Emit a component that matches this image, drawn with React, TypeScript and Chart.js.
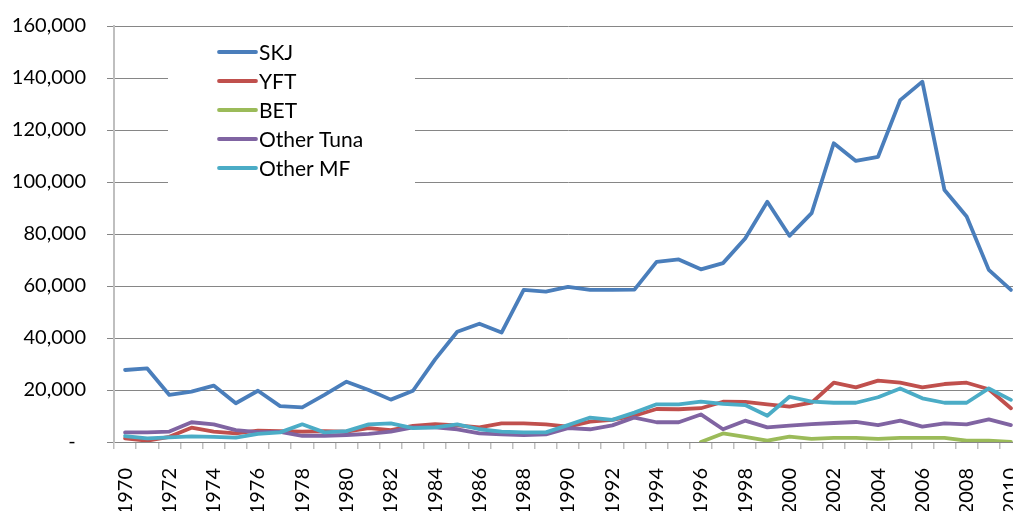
import React, { useEffect, useRef } from "react";
import { Chart, registerables } from "chart.js";

Chart.register(...registerables);

const years: string[] = [];
for (let y = 1970; y <= 2010; y++) years.push(String(y));

const skj = [27700, 28300, 18100, 19400, 21700, 14900, 19700, 13800, 13300, 18100,
  23200, 20000, 16300, 19700, 31800, 42400, 45500, 42100, 58500, 57800,
  59700, 58500, 58500, 58600, 69300, 70200, 66400, 68800, 78300, 92400,
  79300, 88000, 114900, 108100, 109700, 131500, 138600, 96900, 86700, 66200, 58500];
const yft = [1400, 500, 2000, 5500, 4000, 3300, 4400, 4200, 4000, 4200,
  4000, 5300, 4600, 6200, 6900, 6400, 5600, 7200, 7200, 6800,
  5900, 7800, 8500, 10100, 12700, 12600, 13000, 15500, 15400, 14500,
  13600, 15100, 22800, 21000, 23600, 22800, 21000, 22300, 22800, 20300, 13000];
const bet = [null, null, null, null, null, null, null, null, null, null,
  null, null, null, null, null, null, null, null, null, null,
  null, null, null, null, null, null, 0, 3300, 2000, 500,
  2100, 1200, 1600, 1600, 1200, 1600, 1600, 1600, 500, 500, 0];
const otherTuna = [3700, 3700, 4000, 7600, 6800, 4600, 3800, 3900, 2400, 2400,
  2700, 3100, 4000, 5600, 5600, 4900, 3300, 2900, 2700, 2900,
  5300, 4900, 6400, 9400, 7600, 7600, 10600, 4900, 8200, 5600,
  6300, 6900, 7300, 7700, 6500, 8200, 5900, 7200, 6800, 8700, 6500];
const otherMF = [2300, 1400, 1800, 2200, 2000, 1700, 3100, 3700, 6800, 3700,
  4200, 6800, 7200, 5300, 5600, 6800, 4900, 4000, 3700, 3700,
  6500, 9400, 8500, 11300, 14500, 14500, 15500, 14700, 14200, 10100,
  17400, 15500, 15100, 15100, 17200, 20600, 16800, 15100, 15100, 20600, 16200];

const seriesNames = ["SKJ", "YFT", "BET", "Other Tuna", "Other MF"];
const seriesColors = ["#4A7EBB", "#C0504D", "#9BBB59", "#8064A2", "#4BACC6"];
const seriesData = [skj, yft, bet, otherTuna, otherMF];

const FONT = "Lato, 'Open Sans', sans-serif";

const legendPlugin = {
  id: "boxLegend",
  afterDatasetsDraw(chart: any) {
    const ctx = chart.ctx;
    ctx.save();
    ctx.fillStyle = "#FFFFFF";
    ctx.fillRect(168, 31, 247, 154);
    ctx.beginPath();
    ctx.rect(168, 31, 247, 146);
    ctx.clip();
    const rows = [52, 81, 110, 139, 168];
    chart.data.datasets.forEach((ds: any, i: number) => {
      const y = rows[i];
      ctx.strokeStyle = ds.borderColor;
      ctx.lineWidth = 3.8;
      ctx.lineCap = "round";
      ctx.beginPath();
      ctx.moveTo(219, y);
      ctx.lineTo(256, y);
      ctx.stroke();
      ctx.fillStyle = "#000000";
      ctx.font = "21px " + FONT;
      ctx.textBaseline = "middle";
      ctx.textAlign = "left";
      ctx.fillText(ds.label, 259, y + 1);
    });
    ctx.restore();
  },
};

export default function App() {
  const ref = useRef<HTMLCanvasElement | null>(null);
  useEffect(() => {
    if (!ref.current) return;
    const chart = new Chart(ref.current, {
      type: "line",
      data: {
        labels: years,
        datasets: seriesNames.map((name, i) => ({
          label: name,
          data: seriesData[i] as any,
          borderColor: seriesColors[i],
          backgroundColor: seriesColors[i],
          borderWidth: 3.8,
          pointRadius: 0,
          tension: 0,
          borderJoinStyle: "round" as const,
          borderCapStyle: "round" as const,
          spanGaps: false,
          order: seriesNames.length - i,
        })),
      },
      options: {
        responsive: false,
        animation: false,
        layout: { padding: { top: 26, right: 6, left: 0, bottom: 0 } },
        plugins: {
          legend: { display: false },
          tooltip: { enabled: false },
        },
        scales: {
          x: {
            offset: true,
            afterFit(scale: any) {
              scale.height = 69;
            },
            grid: {
              offset: true,
              drawOnChartArea: false,
              drawTicks: true,
              tickLength: 7,
              color: "#BFBFBF",
              lineWidth: 1.5,
            },
            border: { color: "#868686", width: 1 },
            ticks: {
              autoSkip: false,
              maxRotation: 90,
              minRotation: 90,
              padding: 19,
              color: "#000000",
              font: { family: FONT, size: 20 },
              callback(_v: any, idx: number) {
                return idx % 2 === 0 ? years[idx] : "";
              },
            },
          },
          y: {
            min: 0,
            max: 160000,
            afterFit(scale: any) {
              scale.width = 114;
              scale.paddingTop = 0;
              scale.paddingBottom = 0;
            },
            grid: {
              color: "#868686",
              lineWidth: 1,
              tickLength: 7,
            },
            border: { color: "#BFBFBF", width: 2 },
            ticks: {
              stepSize: 20000,
              padding: 21,
              color: "#000000",
              font: { family: FONT, size: 20 },
              callback(v: any) {
                return v === 0 ? "-  " : Number(v).toLocaleString("en-US");
              },
            },
          },
        },
      },
      plugins: [legendPlugin],
    });
    return () => chart.destroy();
  }, []);
  return (
    <div
      style={{
        position: "fixed",
        left: 0,
        top: 0,
        width: 1013,
        height: 511,
        overflow: "hidden",
        background: "#FFFFFF",
      }}
    >
      <canvas ref={ref} width={1054} height={511} style={{ display: "block", width: 1054, height: 511 }} />
    </div>
  );
}
